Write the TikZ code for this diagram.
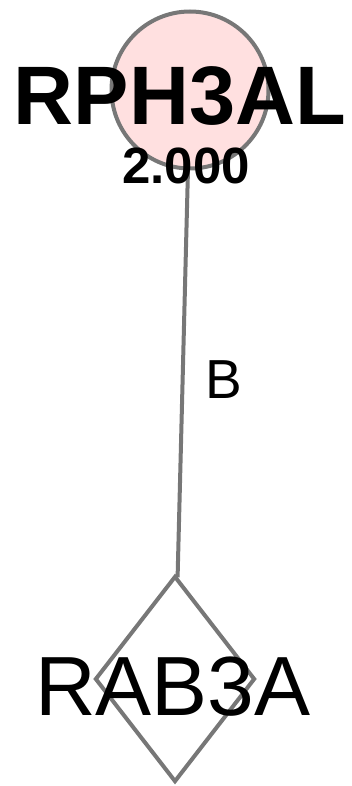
\documentclass[tikz,border=0pt]{standalone}
\usepackage{fontspec}
\setmainfont{Liberation Sans}
\usepackage{xcolor}
\usetikzlibrary{positioning, shapes.geometric}
\definecolor{edgegray}{HTML}{777777}
\definecolor{nodepink}{HTML}{FFE0E0}

\begin{document}
\begin{tikzpicture}[x=1pt, y=-1pt, line width=4pt, every node/.style={inner sep=0pt}]
\useasboundingbox (0,0) rectangle (351,786);
\node[draw=edgegray, circle, fill=nodepink, minimum size=157pt] (rph3al) at (190,90) {};
\node[draw=edgegray, diamond, fill=white, minimum width=160pt, minimum height=206pt] (rab3a) at (175,679) {};

\draw[edgegray] (rph3al) -- node[anchor=west, xshift=21pt, yshift=-6pt, text=black, font=\fontsize{55}{60}\selectfont] (lblb) {B} (rab3a);

\node[anchor=base, font=\fontsize{83}{90}\selectfont\bfseries] (rph3altext) at (180,125) {RPH3AL};
\node[anchor=base, font=\fontsize{51}{56}\selectfont\bfseries] (scoretext) at (186,184) {2.000};
\node[anchor=base, font=\fontsize{84}{90}\selectfont] (rab3atext) at (173,715) {RAB3A};
\end{tikzpicture}
\end{document}
